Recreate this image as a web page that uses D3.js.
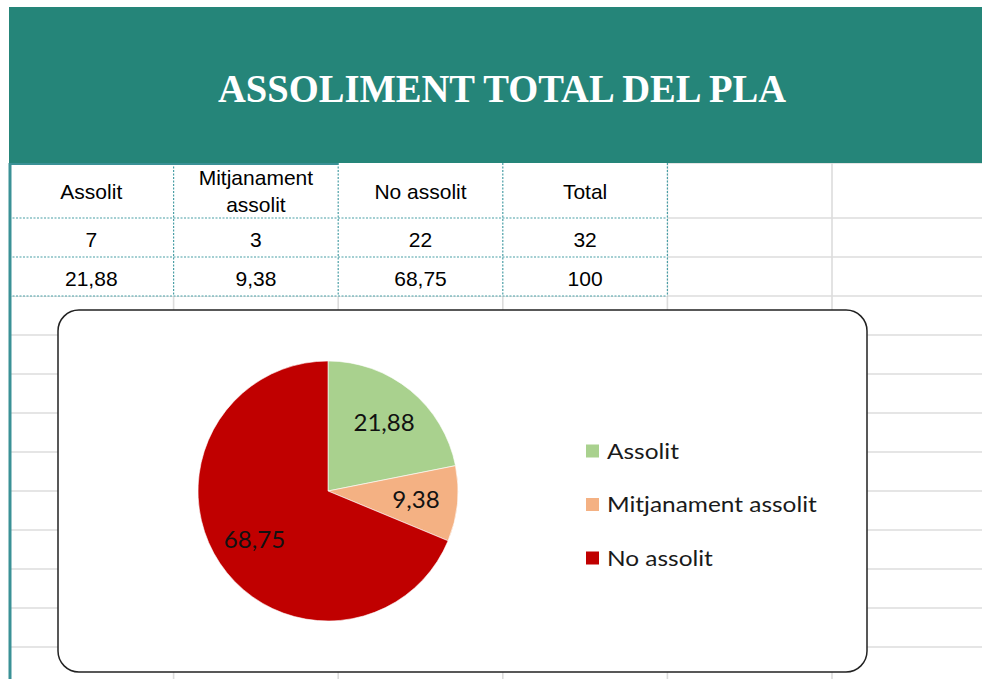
<!DOCTYPE html>
<html>
<head>
<meta charset="utf-8">
<script src="https://cdn.jsdelivr.net/npm/d3@7"></script>
<style>
  html, body { margin: 0; padding: 0; background: #fff; }
  svg { display: block; }
</style>
</head>
<body>
<div id="chart"></div>
<script>
// data
const categories = ["Assolit", "Mitjanament assolit", "No assolit"];
const counts = [7, 3, 22];
const percents = [21.88, 9.38, 68.75];
const headerLabels = [["Assolit"], ["Mitjanament", "assolit"], ["No assolit"], ["Total"]];
const countRow = [7, 3, 22, 32];
const percentRow = [21.88, 9.38, 68.75, 100];
const sliceColors = ["#a9d18e", "#f4b183", "#c00000"];

const W = 982, H = 679;
const teal = "#258579";
const locale = d3.formatLocale({ decimal: ",", thousands: ".", grouping: [3], currency: ["", "€"] });
const fmt = (v) => Number.isInteger(v) ? String(v) : locale.format(".2f")(v);

let svg = d3.select("#chart").append("svg").attr("width", W).attr("height", H);

// spreadsheet grid
let colX = d3.scaleLinear().domain([0, 6]).range([9, 9 + 6 * 164.6]);
let rowTops = [163, 218, 257];
for (let y = 296; y < H + 40; y += 39) rowTops.push(y);

let grid = svg.append("g").attr("stroke", "#dcdcdc").attr("stroke-width", 1.6);
rowTops.forEach((y) => {
	grid.append("line").attr("x1", 11).attr("x2", W).attr("y1", y).attr("y2", y);
});
d3.range(1, 6).forEach((i) => {
	grid.append("line").attr("x1", colX(i)).attr("x2", colX(i)).attr("y1", 163).attr("y2", H);
});

// table cells (first four columns, three rows)
let cells = svg.append("g");
cells.append("rect")
	.attr("x", colX(0)).attr("y", rowTops[0])
	.attr("width", colX(4) - colX(0)).attr("height", rowTops[3] - rowTops[0])
	.attr("fill", "#fff");
let dotted = cells.append("g").attr("stroke", "#4a9fa6").attr("stroke-width", 1.2).attr("stroke-dasharray", "2,1.5");
[1, 2, 3].forEach((r) => {
	dotted.append("line").attr("x1", colX(0)).attr("x2", colX(4)).attr("y1", rowTops[r]).attr("y2", rowTops[r]);
});
[1, 2, 3, 4].forEach((c) => {
	dotted.append("line").attr("x1", colX(c)).attr("x2", colX(c)).attr("y1", rowTops[0]).attr("y2", rowTops[3]);
});

let cellText = cells.append("g")
	.attr("font-family", "'Liberation Sans', Arial, sans-serif")
	.attr("font-size", 21).attr("fill", "#000").attr("text-anchor", "middle");

headerLabels.forEach((lines, i) => {
	let cx = (colX(i) + colX(i + 1)) / 2;
	let t = cellText.append("text").attr("x", cx);
	if (lines.length === 1) {
		t.attr("y", 199).text(lines[0]);
	} else {
		lines.forEach((l, k) => t.append("tspan").attr("x", cx).attr("y", 185 + k * 27).text(l));
	}
});
countRow.forEach((v, i) => {
	cellText.append("text").attr("x", (colX(i) + colX(i + 1)) / 2).attr("y", 247).text(v);
});
percentRow.forEach((v, i) => {
	cellText.append("text").attr("x", (colX(i) + colX(i + 1)) / 2).attr("y", 286).text(fmt(v));
});

// header band
svg.append("rect").attr("x", 9).attr("y", 7).attr("width", W - 9).attr("height", 156).attr("fill", teal);
svg.append("line").attr("x1", 9).attr("x2", colX(2)).attr("y1", 164).attr("y2", 164)
	.attr("stroke", "#3a9196").attr("stroke-width", 2);
svg.append("text")
	.attr("x", 502).attr("y", 102)
	.attr("text-anchor", "middle")
	.attr("font-family", "'Liberation Serif', 'DejaVu Serif', serif")
	.attr("font-weight", "bold").attr("font-size", 40)
	.attr("textLength", 568).attr("lengthAdjust", "spacingAndGlyphs")
	.attr("fill", "#fff")
	.text("ASSOLIMENT TOTAL DEL PLA");

// left thick border
svg.append("line").attr("x1", 10).attr("x2", 10).attr("y1", 163).attr("y2", H)
	.attr("stroke", "#3a9196").attr("stroke-width", 3);

// chart box
svg.append("rect")
	.attr("x", 58).attr("y", 310).attr("width", 809).attr("height", 362)
	.attr("rx", 21).attr("ry", 21)
	.attr("fill", "#fff").attr("stroke", "#222").attr("stroke-width", 1.5);

// widen Lato a bit so it takes the room of the original geometric face
function stretch(sel, k) {
	sel.each(function() {
		let len = this.getComputedTextLength();
		d3.select(this).attr("textLength", len * k).attr("lengthAdjust", "spacingAndGlyphs");
	});
}

// pie
let radius = 130;
let pieG = svg.append("g").attr("transform", "translate(328,491)");
let pieFunc = d3.pie().sort(null).value((d) => d.value);
let slices = pieFunc(categories.map((c, i) => ({ name: c, value: percents[i], color: sliceColors[i] })));
let arcPath = d3.arc().innerRadius(0).outerRadius(radius);
let labelArc = d3.arc().innerRadius(radius * 0.68).outerRadius(radius * 0.68);

pieG.selectAll(".arc").data(slices).enter().append("path")
	.attr("class", "arc")
	.attr("d", arcPath)
	.attr("fill", (o) => o.data.color)
	.attr("stroke", "#fff").attr("stroke-width", 0.6);

let pieLabels = pieG.selectAll(".lbl").data(slices).enter().append("text")
	.attr("class", "lbl")
	.attr("transform", (o) => "translate(" + labelArc.centroid(o) + ")")
	.attr("text-anchor", "middle").attr("dy", "0.35em")
	.attr("font-family", "Lato, 'Open Sans', sans-serif")
	.attr("font-size", 22.5).attr("fill", "#111")
	.text((o) => fmt(o.data.value));
stretch(pieLabels, 1.07);

// legend
let legend = svg.append("g").attr("transform", "translate(586,451)");
let legY = d3.scalePoint().domain(categories).range([0, 107]);
let item = legend.selectAll(".leg").data(categories).enter().append("g")
	.attr("class", "leg")
	.attr("transform", (c) => "translate(0," + legY(c) + ")");
item.append("rect").attr("x", 0).attr("y", -6.5).attr("width", 13).attr("height", 13)
	.attr("fill", (c, i) => sliceColors[i]);
let legText = item.append("text").attr("x", 21).attr("dy", "0.36em")
	.attr("font-family", "Lato, 'Open Sans', sans-serif")
	.attr("font-size", 22).attr("fill", "#1a1a1a")
	.text((c) => c);
stretch(legText, 1.11);
</script>
</body>
</html>
